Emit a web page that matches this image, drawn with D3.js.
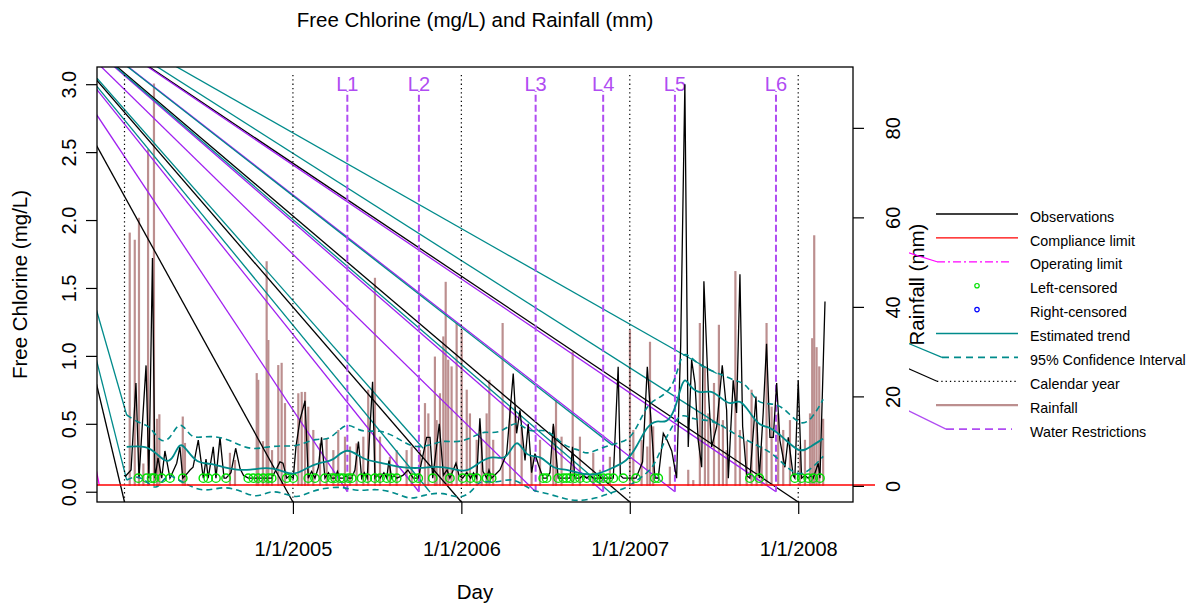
<!DOCTYPE html>
<html><head><meta charset="utf-8">
<script src="https://cdn.jsdelivr.net/npm/d3@7"></script>
<style>
body{margin:0;background:#fff}
svg{display:block}
text{font-family:"Liberation Sans",Arial,Helvetica,sans-serif;fill:#000}
</style>
</head><body>
<svg id="c" width="1196" height="603"></svg>
<script>
// ---------------- DATA ----------------
const chartTitle = "Free Chlorine (mg/L) and Rainfall (mm)";
const xTickYears = [2005, 2006, 2007, 2008];
const xTickLabels = ["1/1/2005", "1/1/2006", "1/1/2007", "1/1/2008"];
const yTicksChlorine = [0, 0.5, 1.0, 1.5, 2.0, 2.5, 3.0];
const yTicksRain = [0, 20, 40, 60, 80];
const chlorineRange = [0.043, 3.008];
const rainRange = [0, 90];

// observations (decimal year, mg/L)
const obsYear = [2004.003,2004.039,2004.068,2004.086,2004.128,2004.145,2004.166,2004.181,2004.199,2004.221,2004.240,2004.270,2004.310,2004.329,2004.346,2004.369,2004.389,2004.407,2004.438,2004.468,2004.484,2004.497,2004.527,2004.543,2004.567,2004.591,2004.603,2004.632,2004.660,2004.686,2004.707,2004.735,2004.765,2004.794,2004.824,2004.854,2004.874,2004.899,2004.923,2004.941,2004.963,2004.982,2005.002,2005.018,2005.042,2005.072,2005.091,2005.111,2005.131,2005.151,2005.170,2005.190,2005.211,2005.230,2005.250,2005.264,2005.279,2005.299,2005.315,2005.329,2005.349,2005.368,2005.389,2005.408,2005.424,2005.441,2005.473,2005.487,2005.502,2005.517,2005.540,2005.557,2005.570,2005.586,2005.600,2005.616,2005.653,2005.683,2005.714,2005.744,2005.794,2005.814,2005.830,2005.869,2005.893,2005.915,2005.932,2005.968,2005.986,2006.008,2006.032,2006.055,2006.072,2006.091,2006.110,2006.128,2006.150,2006.164,2006.180,2006.205,2006.229,2006.269,2006.308,2006.328,2006.348,2006.378,2006.397,2006.417,2006.437,2006.457,2006.486,2006.506,2006.526,2006.546,2006.575,2006.605,2006.625,2006.645,2006.660,2006.674,2006.704,2006.722,2006.744,2006.763,2006.783,2006.813,2006.842,2006.872,2006.902,2006.931,2006.944,2006.961,2006.983,2007.011,2007.037,2007.076,2007.104,2007.130,2007.149,2007.169,2007.199,2007.221,2007.249,2007.278,2007.302,2007.327,2007.347,2007.367,2007.387,2007.406,2007.427,2007.440,2007.466,2007.486,2007.516,2007.549,2007.575,2007.585,2007.614,2007.634,2007.654,2007.670,2007.694,2007.713,2007.749,2007.769,2007.792,2007.812,2007.832,2007.852,2007.872,2007.891,2007.921,2007.941,2007.970,2007.980,2008.000,2008.020,2008.040,2008.059,2008.075,2008.089,2008.119,2008.129,2008.159];
const obsValue = [0.11,0.16,0.80,0.10,0.93,0.10,1.72,0.10,0.25,0.10,0.30,0.10,0.21,0.33,0.10,0.13,0.16,0.18,0.38,0.10,0.24,0.10,0.33,0.10,0.40,0.10,0.10,0.14,0.32,0.17,0.12,0.10,0.10,0.10,0.10,0.10,0.10,0.16,0.22,0.21,0.10,0.12,0.10,0.33,0.53,0.67,0.10,0.15,0.10,0.18,0.40,0.10,0.14,0.10,0.10,0.15,0.10,0.10,0.12,0.10,0.10,0.16,0.37,0.10,0.14,0.10,0.81,0.10,0.12,0.10,0.14,0.10,0.23,0.10,0.12,0.10,0.12,0.16,0.10,0.10,0.40,0.40,0.10,0.50,0.12,0.16,0.10,0.21,0.12,0.10,0.14,0.10,0.14,0.10,0.54,0.15,0.10,0.16,0.10,0.13,0.16,0.28,0.87,0.43,0.60,0.23,0.50,0.14,0.28,0.20,0.10,0.10,0.14,0.50,0.10,0.10,0.10,0.10,0.33,0.10,0.10,0.12,0.10,0.12,0.10,0.10,0.10,0.10,0.10,0.92,0.12,0.10,0.10,0.10,0.10,0.22,0.92,0.45,0.10,0.10,0.43,0.38,0.30,0.10,1.07,3.00,0.33,0.97,0.80,0.38,0.18,1.55,0.75,0.33,0.48,0.93,0.60,0.10,0.82,0.58,1.60,0.48,0.12,0.10,0.70,0.10,0.58,1.09,0.40,0.40,0.80,0.38,0.18,0.40,0.12,0.10,0.82,0.10,0.12,0.10,0.12,0.10,0.21,0.10,1.40];

// left-censored samples (shown at the detection limit)
const censoredValue = 0.1;
const censoredYear = [2004.082,2004.132,2004.161,2004.177,2004.221,2004.270,2004.346,2004.468,2004.497,2004.543,2004.603,2004.735,2004.765,2004.794,2004.824,2004.854,2004.874,2004.963,2005.002,2005.091,2005.131,2005.190,2005.230,2005.250,2005.279,2005.299,2005.329,2005.349,2005.408,2005.441,2005.487,2005.517,2005.557,2005.586,2005.616,2005.714,2005.744,2005.830,2005.932,2006.008,2006.055,2006.091,2006.150,2006.180,2006.486,2006.506,2006.575,2006.605,2006.625,2006.645,2006.674,2006.704,2006.744,2006.783,2006.813,2006.842,2006.872,2006.902,2006.961,2007.037,2007.149,2007.169,2007.713,2007.769,2007.980,2008.020,2008.059,2008.089,2008.129];

// estimated trend and 95% confidence interval
const trendYear = [2004.013,2004.132,2004.191,2004.251,2004.290,2004.329,2004.369,2004.429,2004.508,2004.587,2004.666,2004.745,2004.844,2004.923,2005.002,2005.061,2005.161,2005.238,2005.319,2005.418,2005.517,2005.616,2005.754,2005.853,2005.952,2006.032,2006.110,2006.189,2006.269,2006.328,2006.388,2006.467,2006.546,2006.625,2006.704,2006.803,2006.902,2006.981,2007.041,2007.100,2007.159,2007.219,2007.268,2007.298,2007.327,2007.357,2007.416,2007.476,2007.535,2007.595,2007.654,2007.713,2007.773,2007.832,2007.911,2008.010,2008.070,2008.148];
const trendValue = [0.33,0.34,0.28,0.21,0.25,0.37,0.31,0.21,0.21,0.18,0.16,0.16,0.18,0.16,0.12,0.16,0.22,0.22,0.34,0.23,0.22,0.18,0.17,0.19,0.17,0.14,0.22,0.27,0.22,0.42,0.24,0.28,0.16,0.17,0.13,0.12,0.18,0.22,0.33,0.48,0.53,0.50,0.60,0.75,0.85,0.77,0.72,0.75,0.70,0.63,0.69,0.58,0.48,0.48,0.40,0.28,0.33,0.39];
const ciUpperYear = [2004.013,2004.092,2004.151,2004.211,2004.270,2004.329,2004.389,2004.448,2004.525,2004.607,2004.686,2004.765,2004.844,2004.943,2005.022,2005.141,2005.220,2005.319,2005.398,2005.517,2005.616,2005.714,2005.814,2005.893,2005.972,2006.071,2006.130,2006.229,2006.328,2006.407,2006.506,2006.605,2006.704,2006.744,2006.842,2006.942,2007.021,2007.100,2007.179,2007.258,2007.298,2007.327,2007.377,2007.456,2007.535,2007.614,2007.694,2007.753,2007.832,2007.911,2008.010,2008.080,2008.148];
const ciUpperValue = [0.565,0.50,0.49,0.36,0.38,0.54,0.40,0.40,0.41,0.39,0.34,0.31,0.33,0.34,0.33,0.40,0.37,0.53,0.43,0.46,0.40,0.32,0.34,0.38,0.36,0.40,0.45,0.42,0.54,0.42,0.48,0.33,0.31,0.27,0.33,0.36,0.40,0.65,0.69,0.77,0.97,1.03,0.97,0.90,0.87,0.82,0.80,0.65,0.65,0.63,0.48,0.53,0.68];
const ciLowerYear = [2004.013,2004.072,2004.132,2004.191,2004.251,2004.318,2004.389,2004.478,2004.587,2004.686,2004.785,2004.864,2004.943,2005.022,2005.101,2005.180,2005.299,2005.378,2005.497,2005.616,2005.695,2005.774,2005.893,2005.992,2006.071,2006.110,2006.210,2006.308,2006.407,2006.506,2006.605,2006.685,2006.803,2006.902,2006.981,2007.060,2007.139,2007.197,2007.258,2007.308,2007.377,2007.456,2007.535,2007.614,2007.694,2007.773,2007.852,2007.931,2008.010,2008.089,2008.148];
const ciLowerValue = [0.086,0.12,0.08,0.0,0.14,0.09,0.04,0.0,0.04,0.01,-0.05,0.01,-0.01,-0.05,0.0,0.025,0.04,0.0,0.025,-0.01,-0.06,-0.025,0.0,-0.06,0.01,0.09,0.06,0.11,0.01,-0.01,-0.05,-0.07,-0.05,0.0,0.025,0.10,0.17,0.35,0.50,0.58,0.53,0.53,0.50,0.43,0.38,0.33,0.28,0.18,0.11,0.18,0.26];
// starts of the confidence-interval pieces
const ciPieceUpperStarts = [[2004.013,0.565],[2005.773,0.32],[2006.894,0.345],[2007.516,0.87]];
const ciPieceLowerStarts = [[2004.013,0.086],[2005.814,-0.002],[2006.894,-0.017],[2007.535,0.49]];

// rainfall (decimal year, mm)
const rainYear = [2004.031,2004.061,2004.086,2004.112,2004.140,2004.175,2004.193,2004.207,2004.346,2004.359,2004.626,2004.656,2004.785,2004.794,2004.822,2004.844,2004.854,2004.876,2004.913,2004.933,2004.953,2005.032,2005.052,2005.072,2005.091,2005.121,2005.161,2005.200,2005.240,2005.269,2005.309,2005.339,2005.378,2005.418,2005.447,2005.487,2005.517,2005.576,2005.616,2005.675,2005.705,2005.754,2005.784,2005.804,2005.843,2005.853,2005.873,2005.893,2005.907,2005.922,2005.942,2005.972,2006.002,2006.032,2006.051,2006.091,2006.121,2006.150,2006.166,2006.189,2006.245,2006.289,2006.318,2006.358,2006.417,2006.467,2006.546,2006.562,2006.595,2006.661,2006.704,2006.783,2006.823,2006.882,2007.001,2007.021,2007.070,2007.104,2007.120,2007.139,2007.238,2007.347,2007.377,2007.416,2007.446,2007.466,2007.500,2007.529,2007.553,2007.575,2007.627,2007.654,2007.694,2007.723,2007.753,2007.783,2007.812,2007.842,2007.881,2007.911,2007.951,2008.010,2008.040,2008.070,2008.083,2008.095,2008.109,2008.125,2008.148];
const rainMm = [56.6,55.0,59.9,5,75.2,89.9,15,16,15.5,9.6,7.4,5.8,25.2,23.7,10,50.2,32.6,8,27,27.5,18.5,20.7,21,21,17.7,12.5,9.5,10.7,8,12.5,11,8.8,9.5,11,21.5,46.5,11,6.5,8,8,8.8,8,18.5,16.2,28.9,14.7,20.7,33.4,45.6,28.2,26.7,36.4,34.9,21.5,16.2,10.3,10.3,16.2,23.7,10.3,36.4,17.7,17.7,13.3,6.5,10.3,13.3,19.2,11,30,11,7.4,3.6,6.5,34.9,12.5,10.3,8.8,32.2,13.3,4.3,3.6,1.3,36.4,26.7,16.2,23,36,14.7,8,48,12.5,10,21.5,14.7,8.8,36.4,17.7,16.2,12.5,14.7,8.8,10.3,16.2,33,56,31,26.7,15];

// reference lines
const complianceLimit = 0.05;
const operatingLimit = 0.05;
const operatingLimitStart = 2003.85;
const calendarYears = [2004, 2005, 2006, 2007, 2008];
const calendarLineTop = 3.09;
const restrictionYear = [2005.323, 2005.748, 2006.441, 2006.842, 2007.268, 2007.868];
const restrictionLabel = ["L1", "L2", "L3", "L4", "L5", "L6"];
const restrictionTop = 2.95;
const restrictionLabelAt = 3.0;
// common point the spurious polyline segments radiate from
const rayOrigin = [2003.243, 3.879];

const legendLabels = ["Observations","Compliance limit","Operating limit","Left-censored","Right-censored","Estimated trend","95% Confidence Interval","Calendar year","Rainfall","Water Restrictions"];

// ---------------- DRAWING ----------------
const C = {teal:"#008B8B", purple:"#A020F0", purpleDash:"#B04CF2", rain:"#BC8F8F", green:"#00E000", red:"#FF0000", magenta:"#FF00FF", blue:"#0000FF"};
const svg = d3.select("#c");
const P = {l:97, r:853, t:67, b:502};

const xExt = d3.extent(obsYear), xPad = 0.04*(xExt[1]-xExt[0]);
const x = d3.scaleLinear().domain([xExt[0]-xPad, xExt[1]+xPad]).range([P.l, P.r]);
const cPad = 0.04*(chlorineRange[1]-chlorineRange[0]);
const y = d3.scaleLinear().domain([chlorineRange[0]-cPad, chlorineRange[1]+cPad]).range([P.b, P.t]);
const rPad = 0.04*(rainRange[1]-rainRange[0]);
const yr = d3.scaleLinear().domain([rainRange[0]-rPad, rainRange[1]+rPad]).range([P.b, P.t]);

const defs = svg.append("defs");
defs.append("clipPath").attr("id","clipPlot").append("rect")
  .attr("x",P.l).attr("y",P.t).attr("width",P.r-P.l).attr("height",P.b-P.t);
defs.append("clipPath").attr("id","clipLegend").append("rect")
  .attr("x",909).attr("y",0).attr("width",300).attr("height",603);

const g = svg.append("g").attr("clip-path","url(#clipPlot)");

// rainfall bars
g.append("g").selectAll("line").data(rainYear).join("line")
  .attr("x1",(d)=>x(d)).attr("x2",(d)=>x(d))
  .attr("y1",yr(0)).attr("y2",(d,i)=>yr(rainMm[i]))
  .attr("stroke",C.rain).attr("stroke-width",2.2);

// rays
const ox = x(rayOrigin[0]), oy = y(rayOrigin[1]);
const rays = [];
calendarYears.forEach(v=>rays.push({x:x(v), y:P.b, c:"#000"}));
restrictionYear.forEach(v=>rays.push({x:x(v), y:y(0), c:C.purple}));
ciPieceUpperStarts.concat(ciPieceLowerStarts).forEach(p=>rays.push({x:x(p[0]), y:y(p[1]), c:C.teal}));
rays.push({x:x(operatingLimitStart), y:y(operatingLimit), c:C.magenta});
g.append("g").selectAll("line").data(rays).join("line")
  .attr("x1",ox).attr("y1",oy).attr("x2",d=>d.x).attr("y2",d=>d.y)
  .attr("stroke",d=>d.c).attr("stroke-width",1.3);

// calendar year dotted lines
g.append("g").selectAll("line").data(calendarYears).join("line")
  .attr("x1",d=>x(d)).attr("x2",d=>x(d)).attr("y1",P.b).attr("y2",y(calendarLineTop))
  .attr("stroke","#000").attr("stroke-width",1.2).attr("stroke-dasharray","1.3,3");

// water restriction dashed lines
g.append("g").selectAll("line").data(restrictionYear).join("line")
  .attr("x1",d=>x(d)).attr("x2",d=>x(d)).attr("y1",y(0)).attr("y2",y(restrictionTop))
  .attr("stroke",C.purpleDash).attr("stroke-width",2).attr("stroke-dasharray","7,3");
g.append("g").selectAll("text").data(restrictionYear).join("text")
  .attr("x",d=>x(d)).attr("y",y(restrictionLabelAt)).attr("dy","0.35em")
  .attr("text-anchor","middle").style("font-size","20px").style("fill",C.purpleDash)
  .text((d,i)=>restrictionLabel[i]);

// observations
const lineObs = d3.line().x((d,i)=>x(obsYear[i])).y((d,i)=>y(obsValue[i]));
g.append("path").attr("d",lineObs(obsYear)).attr("fill","none").attr("stroke","#000").attr("stroke-width",1.3);

// censored circles
g.append("g").selectAll("circle").data(censoredYear).join("circle")
  .attr("cx",d=>x(d)).attr("cy",y(censoredValue)).attr("r",4.2)
  .attr("fill","none").attr("stroke",C.green).attr("stroke-width",1.4);

// trend & CI
const smooth = (xs, ys) => d3.line().curve(d3.curveBasis).x((d,i)=>x(xs[i])).y((d,i)=>y(ys[i]))(xs);
g.append("path").attr("d",smooth(trendYear,trendValue)).attr("fill","none").attr("stroke",C.teal).attr("stroke-width",1.8);
g.append("path").attr("d",smooth(ciUpperYear,ciUpperValue)).attr("fill","none").attr("stroke",C.teal).attr("stroke-width",1.6).attr("stroke-dasharray","6,4");
g.append("path").attr("d",smooth(ciLowerYear,ciLowerValue)).attr("fill","none").attr("stroke",C.teal).attr("stroke-width",1.6).attr("stroke-dasharray","6,4");

// compliance limit
svg.append("line").attr("x1",P.l).attr("x2",875).attr("y1",y(complianceLimit)).attr("y2",y(complianceLimit))
  .attr("stroke",C.red).attr("stroke-width",1.4);

// box
svg.append("rect").attr("x",P.l).attr("y",P.t).attr("width",P.r-P.l).attr("height",P.b-P.t)
  .attr("fill","none").attr("stroke","#000").attr("stroke-width",1.3);

// axes
const axL = svg.append("g").attr("transform",`translate(${P.l},0)`)
  .call(d3.axisLeft(y).tickValues(yTicksChlorine).tickSize(11).tickFormat(d3.format(".1f")));
const axR = svg.append("g").attr("transform",`translate(${P.r},0)`)
  .call(d3.axisRight(yr).tickValues(yTicksRain).tickSize(11).tickFormat(d3.format("d")));
const axB = svg.append("g").attr("transform",`translate(0,${P.b})`)
  .call(d3.axisBottom(x).tickValues(xTickYears).tickSize(12).tickFormat((d,i)=>xTickLabels[i]));
[axL,axR,axB].forEach(a=>{
  a.select(".domain").remove();
  a.selectAll(".tick line").attr("stroke","#000").attr("stroke-width",1.2);
  a.selectAll("text").style("font-size","20px").attr("font-family",null);
});
axL.selectAll(".tick text").attr("x",null).attr("dy",null).attr("text-anchor","middle")
  .attr("transform","translate(-21,0) rotate(-90)");
axR.selectAll(".tick text").attr("x",null).attr("dy",null).attr("text-anchor","middle")
  .attr("transform","translate(47,0) rotate(-90)");
axB.selectAll(".tick text").attr("y",54).attr("dy",null);

// titles
svg.append("text").attr("x",(P.l+P.r)/2).attr("y",27).attr("text-anchor","middle").style("font-size","20.5px").text(chartTitle);
svg.append("text").attr("x",(P.l+P.r)/2).attr("y",599).attr("text-anchor","middle").style("font-size","20.5px").text("Day");
svg.append("text").attr("transform",`translate(27,${(P.t+P.b)/2}) rotate(-90)`).attr("text-anchor","middle").style("font-size","20.5px").text("Free Chlorine (mg/L)");
svg.append("text").attr("transform",`translate(924,${(P.t+P.b)/2}) rotate(-90)`).attr("text-anchor","middle").style("font-size","20.5px").text("Rainfall (mm)");

// legend
const L = {x0:936, x1:1018, y0:214, dy:23.9, tx:1030};
const lg = svg.append("g");
const ly = i => L.y0 + i*L.dy;
const legendStyles = [
  {type:"line", c:"#000", w:1.3},
  {type:"line", c:C.red, w:1.3},
  {type:"line", c:C.magenta, w:1.3, dash:"8,3,2,3", x0:937, x1:1011, ray:true},
  {type:"pt", c:C.green},
  {type:"pt", c:C.blue},
  {type:"line", c:C.teal, w:1.6},
  {type:"line", c:C.teal, w:1.6, dash:"7,5", x0:942, ray:true},
  {type:"line", c:"#000", w:1.2, dash:"1.3,3", x0:937, ray:true},
  {type:"line", c:C.rain, w:2.2},
  {type:"line", c:C.purpleDash, w:1.8, dash:"8,5", x0:946, x1:1012, ray:true}
];
const lgRays = lg.append("g").attr("clip-path","url(#clipLegend)");
legendStyles.forEach((s,i)=>{
  const yy = ly(i);
  if (s.type==="line"){
    const a = s.x0||L.x0, b = s.x1||L.x1;
    lg.append("line").attr("x1",a).attr("x2",b).attr("y1",yy).attr("y2",yy)
      .attr("stroke",s.c).attr("stroke-width",s.w).attr("stroke-dasharray",s.dash||null);
    if (s.ray) lgRays.append("line").attr("x1",ox).attr("y1",oy).attr("x2",a).attr("y2",yy)
      .attr("stroke",s.c).attr("stroke-width",1.2);
  } else {
    lg.append("circle").attr("cx",(L.x0+L.x1)/2).attr("cy",yy).attr("r",2.2)
      .attr("fill","none").attr("stroke",s.c).attr("stroke-width",1.2);
  }
  lg.append("text").attr("x",L.tx).attr("y",yy+2.6).attr("dy","0.35em").style("font-size","14.3px").text(legendLabels[i]);
});
</script>
</body></html>
